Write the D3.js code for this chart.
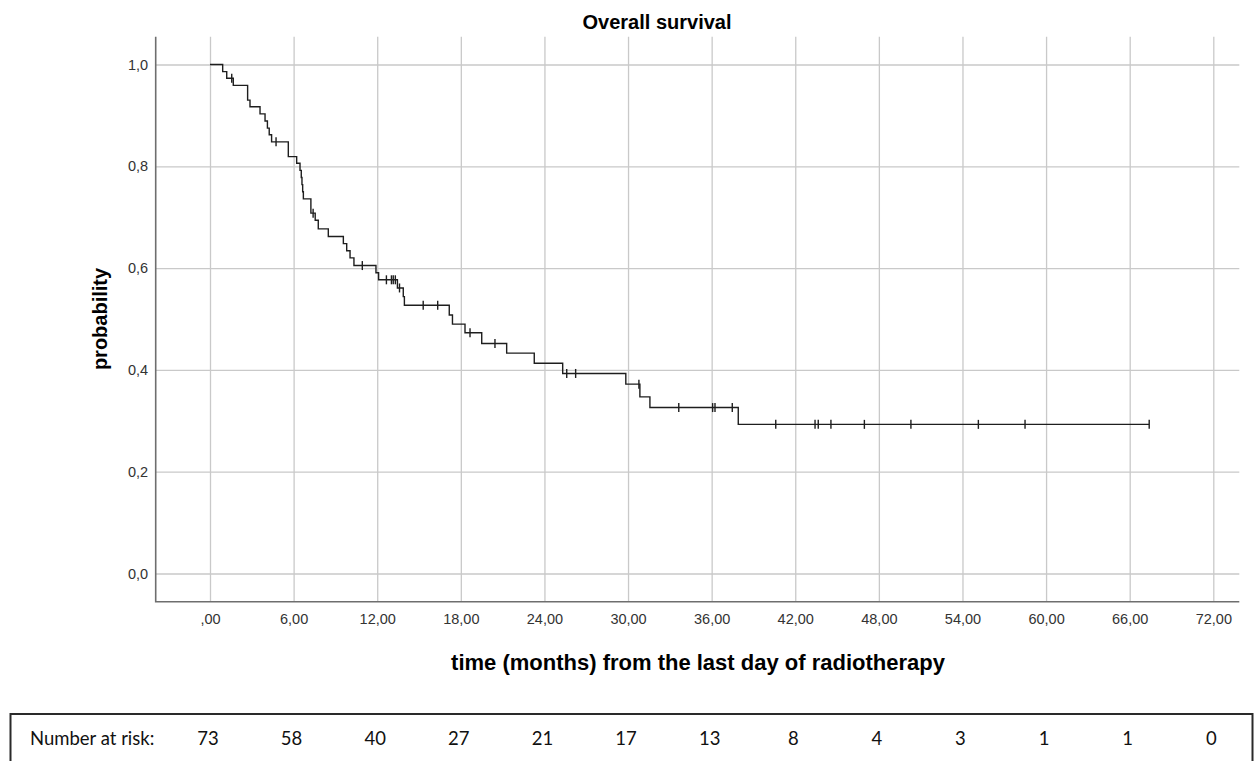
<!DOCTYPE html>
<html>
<head>
<meta charset="utf-8">
<script src="https://cdn.jsdelivr.net/npm/d3@7"></script>
<style>
  html, body { margin: 0; padding: 0; background: #fff; }
  svg { display: block; }
</style>
</head>
<body>
<svg id="chart" width="1257" height="761"></svg>
<script>
// ---------------- data ----------------
const stepTimes = [0, 0.91, 1.2, 1.67, 2.7, 2.87, 3.59, 3.95, 4.12, 4.25, 4.42, 5.62,
  6.22, 6.46, 6.55, 6.6, 6.65, 6.7, 7.24, 7.55, 7.77, 8.49, 9.57, 9.81, 10.05, 10.33,
  11.91, 12.1, 13.45, 13.87, 13.95, 17.17, 17.4, 18.3, 19.5, 21.29, 23.27, 25.31,
  29.84, 30.85, 31.57, 37.91];
const stepSurv = [1, 0.986, 0.973, 0.959, 0.930, 0.917, 0.903, 0.889, 0.875, 0.862, 0.848, 0.819,
  0.806, 0.792, 0.778, 0.764, 0.750, 0.736, 0.708, 0.694, 0.677, 0.662, 0.648, 0.634, 0.620, 0.605,
  0.591, 0.577, 0.561, 0.544, 0.527, 0.508, 0.490, 0.473, 0.452, 0.433, 0.413, 0.393,
  0.372, 0.347, 0.326, 0.293];
const censorTimes = [1.56, 4.74, 7.4, 10.93, 12.66, 13.02, 13.15, 13.3, 13.6, 15.3, 16.34,
  18.66, 20.45, 25.6, 26.24, 30.78, 33.64, 36.07, 36.24, 37.48, 40.6, 43.42, 43.65,
  44.56, 46.96, 50.3, 55.14, 58.49, 67.4];
const xTicks = [0, 6, 12, 18, 24, 30, 36, 42, 48, 54, 60, 66, 72];
const xTickLabels = [",00", "6,00", "12,00", "18,00", "24,00", "30,00", "36,00", "42,00",
  "48,00", "54,00", "60,00", "66,00", "72,00"];
const yTicks = [0, 0.2, 0.4, 0.6, 0.8, 1.0];
const yTickLabels = ["0,0", "0,2", "0,4", "0,6", "0,8", "1,0"];
const riskCounts = [73, 58, 40, 27, 21, 17, 13, 8, 4, 3, 1, 1, 0];
const titleText = "Overall survival";
const xTitle = "time (months) from the last day of radiotherapy";
const yTitle = "probability";
const riskLabel = "Number at risk:";

// ---------------- layout ----------------
const frame = { left: 155.7, right: 1239.3, top: 36.7, bottom: 601.7 };
const x = d3.scaleLinear().domain([0, 72]).range([210, 1213.3]);
const y = d3.scaleLinear().domain([0, 1]).range([573.5, 64.5]);

const svg = d3.select("#chart");
svg.append("rect").attr("width", 1257).attr("height", 761).attr("fill", "#fff");

const gridColor = "#c9c9c9";
const labelFont = "'Liberation Sans', Arial, sans-serif";

// x axis with gridlines
const xAxis = d3.axisBottom(x)
  .tickValues(xTicks)
  .tickFormat((d, i) => xTickLabels[i])
  .tickSizeInner(-(frame.bottom - frame.top))
  .tickSizeOuter(0)
  .tickPadding(12);
const gx = svg.append("g").attr("transform", `translate(0,${frame.bottom})`).call(xAxis);
gx.select(".domain").remove();
gx.selectAll(".tick line").attr("stroke", gridColor).attr("stroke-width", 1.3);
gx.selectAll(".tick text").attr("fill", "#333").style("font-family", labelFont).style("font-size", "14.5px");

// y axis with gridlines
const yAxis = d3.axisLeft(y)
  .tickValues(yTicks)
  .tickFormat((d, i) => yTickLabels[i])
  .tickSizeInner(-(frame.right - frame.left))
  .tickSizeOuter(0)
  .tickPadding(7.5);
const gy = svg.append("g").attr("transform", `translate(${frame.left},0)`).call(yAxis);
gy.select(".domain").remove();
gy.selectAll(".tick line").attr("stroke", gridColor).attr("stroke-width", 1.3);
gy.selectAll(".tick text").attr("fill", "#333").style("font-family", labelFont).style("font-size", "14.5px");

// frame axis lines (left & bottom)
svg.append("path")
  .attr("d", `M${frame.left},${frame.top}V${frame.bottom}H${frame.right}`)
  .attr("fill", "none").attr("stroke", "#6e6e6e").attr("stroke-width", 1.6);

// survival step curve
const lastT = d3.max(censorTimes);
const pts = stepTimes.map((t, i) => [t, stepSurv[i]]);
pts.push([lastT, stepSurv[stepSurv.length - 1]]);
const line = d3.line().x(d => x(d[0])).y(d => y(d[1])).curve(d3.curveStepAfter);
svg.append("path").datum(pts)
  .attr("d", line)
  .attr("fill", "none").attr("stroke", "#1e1e1e").attr("stroke-width", 1.4);

// censor marks
const survAt = t => {
  let s = stepSurv[0];
  for (let i = 0; i < stepTimes.length; i++) if (stepTimes[i] <= t) s = stepSurv[i];
  return s;
};
svg.append("g").selectAll("line").data(censorTimes).join("line")
  .attr("x1", d => x(d)).attr("x2", d => x(d))
  .attr("y1", d => y(survAt(d)) - 4.5).attr("y2", d => y(survAt(d)) + 4.5)
  .attr("stroke", "#1e1e1e").attr("stroke-width", 1.4);

// titles
svg.append("text").attr("x", 657).attr("y", 29).attr("text-anchor", "middle")
  .style("font-family", labelFont).style("font-weight", "bold").style("font-size", "20px")
  .attr("fill", "#000").text(titleText);
svg.append("text").attr("x", 698).attr("y", 670).attr("text-anchor", "middle")
  .style("font-family", labelFont).style("font-weight", "bold").style("font-size", "22px")
  .attr("fill", "#000").text(xTitle);
svg.append("text").attr("transform", "translate(107,319) rotate(-90)").attr("text-anchor", "middle")
  .style("font-family", labelFont).style("font-weight", "bold").style("font-size", "20px")
  .attr("fill", "#000").text(yTitle);

// number at risk table
svg.append("rect").attr("x", 10.5).attr("y", 714).attr("width", 1242).attr("height", 100)
  .attr("fill", "none").attr("stroke", "#2a2a2a").attr("stroke-width", 2);
const riskFont = "Lato, 'Open Sans', sans-serif";
svg.append("text").attr("x", 30).attr("y", 745)
  .style("font-family", riskFont).style("font-size", "18.5px").attr("fill", "#111").text(riskLabel);
svg.append("g").selectAll("text").data(riskCounts).join("text")
  .attr("x", (d, i) => x(xTicks[i]) - 2).attr("y", 745).attr("text-anchor", "middle")
  .style("font-family", riskFont).style("font-size", "18.5px").attr("fill", "#111")
  .text(d => d);
</script>
</body>
</html>
